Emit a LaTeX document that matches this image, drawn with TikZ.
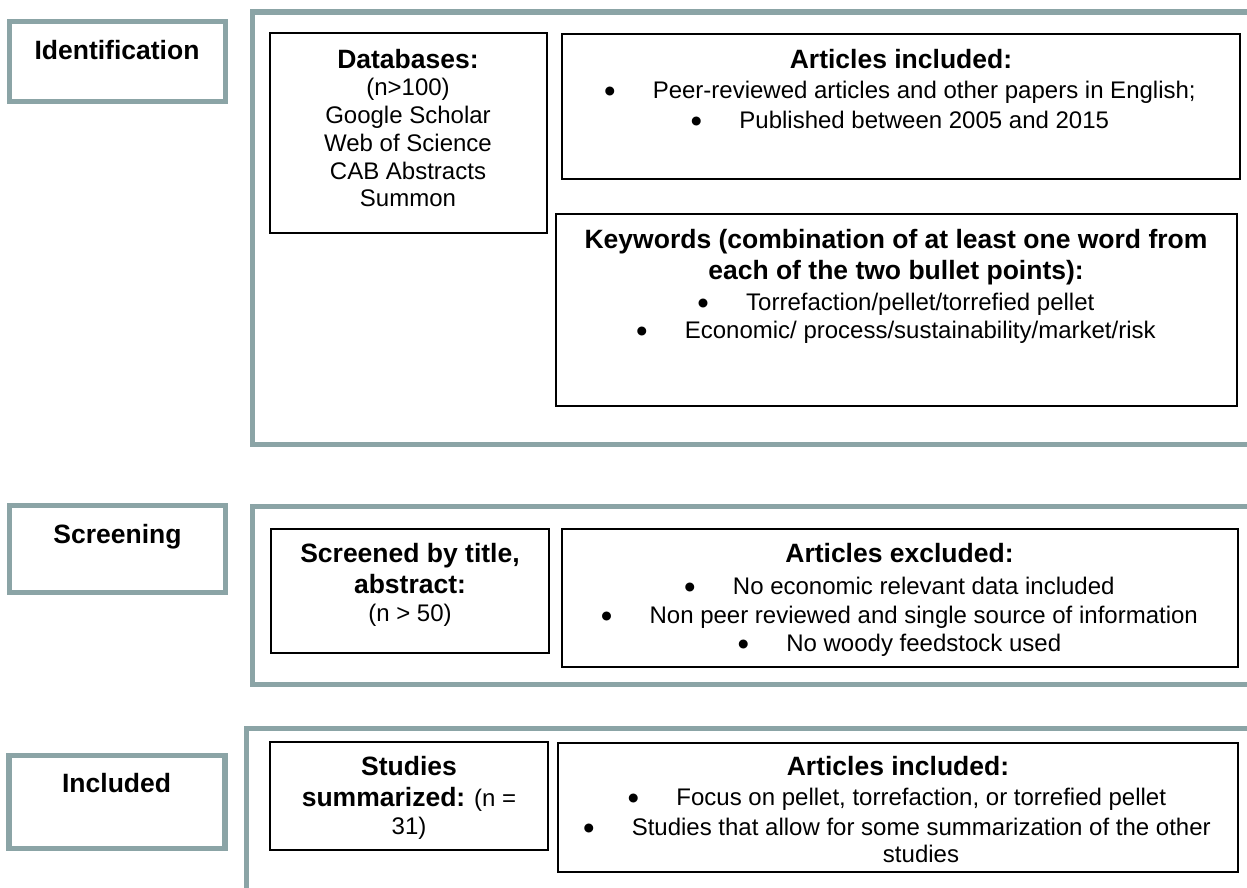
\documentclass[tikz,border=0pt]{standalone}
\usepackage{fontspec}
\setmainfont{Liberation Sans}
\definecolor{gframe}{RGB}{139,164,166}
\newcommand{\bodyf}{\fontsize{24}{28}\selectfont}
\newcommand{\ttlf}{\fontsize{26.5}{30}\selectfont\bfseries}
\newcommand{\bul}{\makebox[47.5pt][l]{\begin{picture}(0,0)\put(4.5,7){\circle*{9}}\end{picture}}}
\begin{document}
\begin{tikzpicture}[x=1pt,y=-1pt,
  frame/.style={draw=gframe,line width=5.3pt,line join=miter},
  side/.style={draw=gframe,line width=5.3pt,rectangle,inner sep=0pt},
  blk/.style={draw=black,line width=2pt,rectangle,inner sep=0pt},
  txt/.style={anchor=base,inner sep=0pt,font=\bodyf},
  ttl/.style={anchor=base,inner sep=0pt,font=\ttlf}]
\useasboundingbox (0,0) rectangle (1247,888);
% section frames
\draw[frame] (1260,12) -- (252.5,12) -- (252.5,444.2) -- (1260,444.2);
\draw[frame] (1260,506.3) -- (252.5,506.3) -- (252.5,684.2) -- (1260,684.2);
\draw[frame] (1260,728.5) -- (246.2,728.5) -- (246.2,900);
% side labels
\node[side,minimum width=216pt,minimum height=79.7pt] (idb) at (117.65,61.5) {};
\node[ttl] (idt) at (117,59.5) {Identification};
\node[side,minimum width=216.5pt,minimum height=87.3pt] (scb) at (117.4,549) {};
\node[ttl] (sct) at (117.5,543.3) {Screening};
\node[side,minimum width=216pt,minimum height=93pt] (inb) at (117.05,801.85) {};
\node[ttl] (int) at (116.6,792.7) {Included};
% Identification boxes
\node[blk,minimum width=277.5pt,minimum height=200.3pt] (db) at (408.25,133.15) {};
\node[ttl] (db1) at (408,68.3) {Databases:};
\node[txt] (db2) at (408,96) {(n>100)};
\node[txt] (db3) at (408,124) {Google Scholar};
\node[txt] (db4) at (408,151.7) {Web of Science};
\node[txt] (db5) at (408,179) {CAB Abstracts};
\node[txt] (db6) at (408,206.5) {Summon};
\node[blk,minimum width=678.5pt,minimum height=145.6pt] (ai1) at (900.75,106.5) {};
\node[ttl] (ai1a) at (901,68.3) {Articles included:};
\node[txt] (ai1b) at (900.5,99) {\bul Peer-reviewed articles and other papers in English;};
\node[txt] (ai1c) at (900.5,128.3) {\bul Published between 2005 and 2015};
\node[blk,minimum width=680.3pt,minimum height=191.7pt] (kw) at (896.45,310.15) {};
\node[ttl] (kwa) at (896,248.3) {Keywords (combination of at least one word from};
\node[ttl] (kwb) at (896,279.3) {each of the two bullet points):};
\node[txt] (kwc) at (896.5,310) {\bul Torrefaction/pellet/torrefied pellet};
\node[txt] (kwd) at (896.5,338.3) {\bul Economic/ process/sustainability/market/risk};
% Screening boxes
\node[blk,minimum width=277.9pt,minimum height=124.2pt] (sc) at (410.35,590.6) {};
\node[ttl] (sca) at (410,562.7) {Screened by title,};
\node[ttl] (scb2) at (410,593.3) {abstract:};
\node[txt] (scc) at (410,621.7) {(n > 50)};
\node[blk,minimum width=676.3pt,minimum height=138pt] (ae) at (899.85,597.7) {};
\node[ttl] (aea) at (899.5,562.7) {Articles excluded:};
\node[txt] (aeb) at (900,594) {\bul No economic relevant data included};
\node[txt] (aec) at (900,623.3) {\bul Non peer reviewed and single source of information};
\node[txt] (aed) at (900,651.7) {\bul No woody feedstock used};
% Included boxes
\node[blk,minimum width=278pt,minimum height=108.5pt] (st) at (408.8,795.75) {};
\node[ttl] (sta) at (409,775.7) {Studies};
\node[txt] (stb) at (409,806.7) {{\ttlf summarized:} (n =};
\node[txt] (stc) at (409,834) {31)};
\node[blk,minimum width=680.3pt,minimum height=129pt] (ai3) at (897.85,807.2) {};
\node[ttl] (ai3a) at (898,775.7) {Articles included:};
\node[txt] (ai3b) at (897.5,805) {\bul Focus on pellet, torrefaction, or torrefied pellet};
\node[txt] (ai3c) at (897.5,835) {\bul Studies that allow for some summarization of the other};
\node[txt] (ai3d) at (921,862.7) {studies};
\end{tikzpicture}
\end{document}
